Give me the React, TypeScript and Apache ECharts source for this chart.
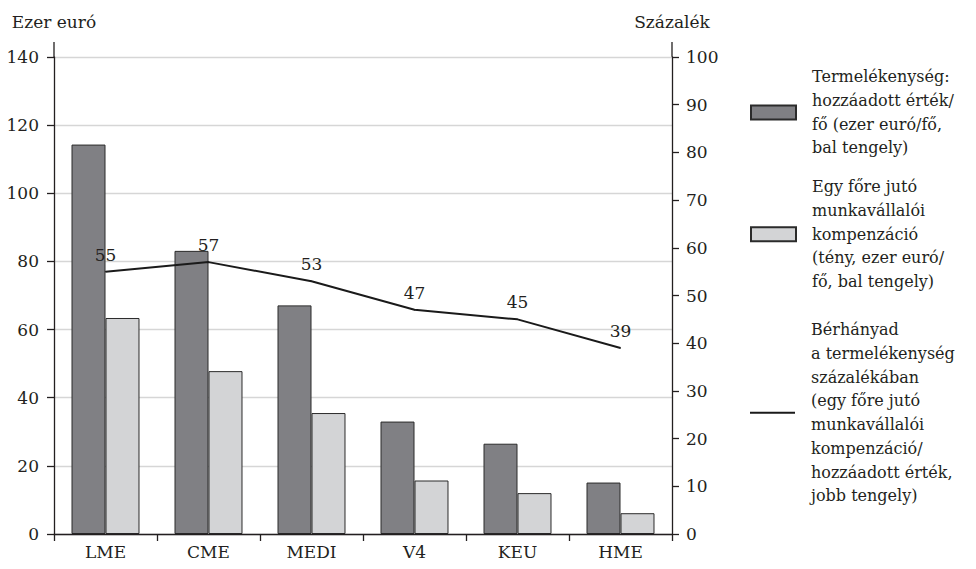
import React, { useEffect, useRef } from "react";
import * as echarts from "echarts";

const categories = ["LME", "CME", "MEDI", "V4", "KEU", "HME"];
const productivity = [114.3, 83.1, 67.1, 33.0, 26.5, 15.1];
const compensation = [63.4, 47.8, 35.5, 15.7, 12.0, 6.1];
const wageShare = [55, 57, 53, 47, 45, 39];

const seriesNames = ["Termelékenység", "Kompenzáció", "Bérhányad"];
const legendTexts = [
  "Termelékenység:\nhozzáadott érték/\nfő (ezer euró/fő,\nbal tengely)",
  "Egy főre jutó\nmunkavállalói\nkompenzáció\n(tény, ezer euró/\nfő, bal tengely)",
  "Bérhányad\na termelékenység\nszázalékában\n(egy főre jutó\nmunkavállalói\nkompenzáció/\nhozzáadott érték,\njobb tengely)",
];
const leftAxisName = "Ezer euró";
const rightAxisName = "Százalék";

const FONT = "DejaVu Serif";
const TEXT = "#231f20";

export default function App() {
  const ref = useRef<HTMLDivElement>(null);
  useEffect(() => {
    if (!ref.current) return;
    const chart = echarts.init(ref.current, null, { renderer: "svg" });
    const legendBase = (i: number, top: number, extra: any = {}) => ({
      show: true,
      orient: "vertical",
      left: 750,
      top,
      padding: 0,
      itemWidth: 45,
      itemHeight: 14,
      itemGap: 0,
      icon: "rect",
      selectedMode: false,
      data: [seriesNames[i]],
      formatter: () => legendTexts[i],
      textStyle: {
        fontFamily: FONT,
        fontSize: 16,
        lineHeight: 23.7,
        color: TEXT,
        padding: [0, 0, 0, 11],
      },
      ...extra,
    });
    chart.setOption({
      animation: false,
      textStyle: { fontFamily: FONT },
      grid: { left: 54, right: 304, top: 57, bottom: 35, containLabel: false },
      legend: [
        legendBase(0, 65),
        legendBase(1, 175),
        legendBase(2, 318, {
          itemHeight: 2,
          itemStyle: { color: "#1a1a1a", borderWidth: 0 },
        }),
      ],
      xAxis: {
        type: "category",
        data: categories,
        axisLine: { show: true, onZero: false, lineStyle: { color: TEXT, width: 1.3 } },
        axisTick: { show: true, inside: false, length: 7, lineStyle: { color: TEXT, width: 1.3 } },
        axisLabel: { color: TEXT, fontSize: 17, fontFamily: FONT, margin: 9 },
        z: 10,
      },
      yAxis: [
        {
          type: "value",
          min: 0,
          max: 140,
          interval: 20,
          position: "left",
          name: leftAxisName,
          nameLocation: "end",
          nameGap: 27,
          nameTextStyle: { color: TEXT, fontSize: 17, fontFamily: FONT },
          axisLine: { show: true, lineStyle: { color: TEXT, width: 1.3 } },
          axisTick: { show: true, length: 7, lineStyle: { color: TEXT, width: 1.3 } },
          axisLabel: { color: TEXT, fontSize: 17, fontFamily: FONT, margin: 15 },
          splitLine: { show: true, lineStyle: { color: "#d6d6d6", width: 1.3 } },
        },
        {
          type: "value",
          min: 0,
          max: 100,
          interval: 10,
          position: "right",
          name: rightAxisName,
          nameLocation: "end",
          nameGap: 27,
          nameTextStyle: { color: TEXT, fontSize: 17, fontFamily: FONT },
          axisLine: { show: true, lineStyle: { color: TEXT, width: 1.3 } },
          axisTick: { show: true, length: 7, lineStyle: { color: TEXT, width: 1.3 } },
          axisLabel: { color: TEXT, fontSize: 17, fontFamily: FONT, margin: 14 },
          splitLine: { show: false },
        },
      ],
      graphic: [
        { type: "line", shape: { x1: 54, y1: 42, x2: 54, y2: 57 }, style: { stroke: TEXT, lineWidth: 1.3 } },
        { type: "line", shape: { x1: 672, y1: 42, x2: 672, y2: 57 }, style: { stroke: TEXT, lineWidth: 1.3 } },
      ],
      series: [
        {
          name: seriesNames[0],
          type: "bar",
          data: productivity,
          yAxisIndex: 0,
          barGap: "0%",
          barCategoryGap: "34%",
          itemStyle: { color: "#808084", borderColor: "#2b2b2b", borderWidth: 1 },
        },
        {
          name: seriesNames[1],
          type: "bar",
          data: compensation,
          yAxisIndex: 0,
          barGap: "0%",
          barCategoryGap: "34%",
          itemStyle: { color: "#d3d4d6", borderColor: "#2b2b2b", borderWidth: 1 },
        },
        {
          name: seriesNames[2],
          type: "line",
          data: wageShare,
          yAxisIndex: 1,
          symbol: "circle",
          symbolSize: 1,
          showSymbol: true,
          lineStyle: { color: "#1a1a1a", width: 2 },
          itemStyle: { color: "#1a1a1a" },
          label: {
            show: true,
            position: "top",
            distance: 8,
            color: TEXT,
            fontSize: 17,
            fontFamily: FONT,
          },
          z: 5,
        },
      ],
    });
    return () => chart.dispose();
  }, []);
  return <div ref={ref} style={{ width: 976, height: 569, position: "absolute", left: 0, top: 0 }} />;
}
